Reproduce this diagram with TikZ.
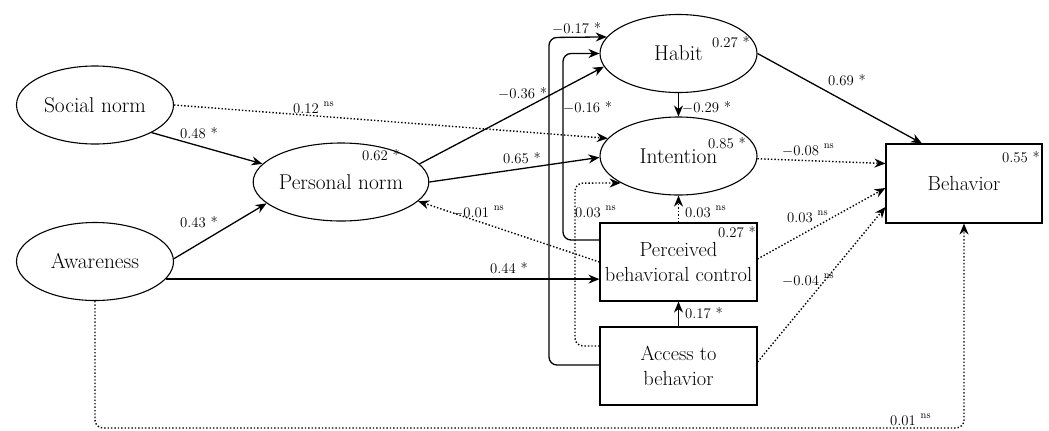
\documentclass[tikz,border=0pt]{standalone}
\usetikzlibrary{shapes.geometric,arrows.meta}
\newcommand\nsmark{\raisebox{0.42em}{\fontsize{10.5}{10.5}\selectfont ns}}
\newcommand\mneg{$-$}
\begin{document}
\begin{tikzpicture}[x=1bp,y=-1bp,
  font=\rmfamily,
  ell/.style={ellipse, draw, line width=1.1bp, minimum width=157bp, minimum height=78bp, inner sep=0pt, font=\rmfamily\fontsize{21.5}{25}\selectfont},
  box/.style={rectangle, draw, line width=1.1bp, minimum width=157bp, minimum height=78bp, inner sep=0pt, align=center, font=\rmfamily\fontsize{20.5}{25}\selectfont},
  lbl/.style={anchor=base west, inner sep=0pt, font=\rmfamily\fontsize{14.8}{15}\selectfont},
  arr/.style={line width=1.3bp, -{Stealth[length=11bp,width=9bp]}},
  dotarr/.style={line width=1.4bp, dash pattern=on 1.4bp off 2bp, -{Stealth[length=11bp,width=9bp]}},
]
\useasboundingbox (0,0) rectangle (1049,430);

% nodes
\node[ell] (sn) at (95,105) {Social norm};
\node[ell] (aw) at (95,261.5) {Awareness};
\node[ell] (pn) at (341,182) {Personal norm};
\node[ell] (hb) at (678.5,53.5) {Habit};
\node[ell] (in) at (678.5,156) {Intention};
\node[box] (pbc) at (678.5,262) {Perceived\\behavioral control};
\node[box] (acc) at (678.5,366) {Access to\\behavior};
\node[box, minimum width=156bp, minimum height=79bp] (beh) at (964,183.5) {Behavior};

% corner coordinates
\coordinate (k1) at (575,183.1);
\coordinate (k2) at (563,53.5);
\coordinate (k3) at (549,37.5);
\coordinate (k4) at (95,428);
\coordinate (k5) at (964,428);
\coordinate (awp) at (aw.-14);

% connectors
\draw[arr] (sn.-26) -- (pn.167);
\draw[arr] (aw.2) -- (pn.196);
\draw[arr] (awp) -- (awp -| pbc.west);
\draw[dotarr] (sn.east) -- (in.166);
\draw[arr] (pn.13) -- (hb.190);
\draw[arr] (pn.east) -- (in.181);
\draw[dotarr] (pbc.west) -- (pn.-14);
\draw[arr] (hb.south) -- (in.north);
\draw[arr] (hb.east) -- ([xshift=-42bp]beh.north);
\draw[dotarr] (in.-2) -- ([yshift=20bp]beh.west);
\draw[dotarr] (pbc.north) -- (in.south);
\draw[dotarr] ([yshift=3bp]pbc.east) -- ([yshift=-4.5bp]beh.west);
\draw[dotarr] ([yshift=4bp]acc.east) -- ([yshift=-23.5bp]beh.west);
\draw[arr] (acc.north) -- (pbc.south);
\draw[dotarr, rounded corners=8bp] ([yshift=20bp]acc.west) -| (k1) -- (in.205.7);
\draw[arr, rounded corners=8bp] ([yshift=22bp]pbc.west) -| (k2) -- (hb.west);
\draw[arr, rounded corners=8bp] ([yshift=1bp]acc.west) -| (k3) -- (hb.167.4);
\draw[dotarr, rounded corners=8bp] (aw.south) -- (k4) -- (k5) -- (beh.south);

% path labels
\node[lbl] (l1) at (180,138) {0.48 *};
\node[lbl] (l2) at (293,113) {0.12 \nsmark};
\node[lbl] (l3) at (180,227) {0.43 *};
\node[lbl] (l4) at (490,273) {0.44 *};
\node[lbl] (l5) at (498,98) {\mneg0.36 *};
\node[lbl] (l6) at (503,163) {0.65 *};
\node[lbl] (l7) at (452,217) {\mneg0.01 \nsmark};
\node[lbl] (l8) at (682,112) {\mneg0.29 *};
\node[lbl] (l9) at (828,85) {0.69 *};
\node[lbl] (l10) at (782,155) {\mneg0.08 \nsmark};
\node[lbl] (l11) at (685,217) {0.03 \nsmark};
\node[lbl] (l12) at (575,217) {0.03 \nsmark};
\node[lbl] (l13) at (787,222) {0.03 \nsmark};
\node[lbl] (l14) at (782,285) {\mneg0.04 \nsmark};
\node[lbl] (l15) at (685,318) {0.17 *};
\node[lbl] (l16) at (563,112) {\mneg0.16 *};
\node[lbl] (l17) at (552,33) {\mneg0.17 *};
\node[lbl] (l18) at (890,425) {0.01 \nsmark};

% R-squared labels
\node[lbl] (r1) at (712,47) {0.27 *};
\node[lbl] (r2) at (708,148) {0.85 *};
\node[lbl] (r3) at (362,160) {0.62 *};
\node[lbl] (r4) at (718,237) {0.27 *};
\node[lbl] (r5) at (1002,162) {0.55 *};
\end{tikzpicture}
\end{document}
